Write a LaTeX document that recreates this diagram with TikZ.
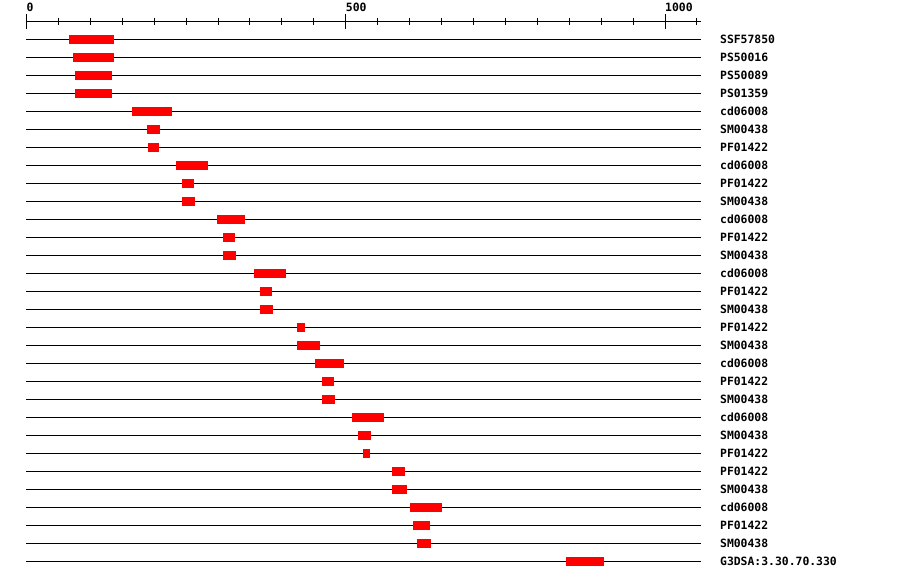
\documentclass[tikz,border=0pt]{standalone}
\usepackage{fontspec}
\setmonofont{DejaVu Sans Mono}
\usepackage{xcolor}
\usetikzlibrary{positioning}
\begin{document}
\begin{tikzpicture}[x=0.6385pt, y=18pt, font=\ttfamily\bfseries\fontsize{11.4}{12}\selectfont]
\useasboundingbox (-41.5,-31.03) rectangle (1368,1.194);
% ruler
\draw[line width=1pt] (0,0) -- (1057,0);
\foreach \x in {50,100,...,1050}
  \draw[line width=1pt] (\x,-0.19) -- (\x,0.19);
\foreach \x in {0,500,1000} {
  \draw[line width=1pt] (\x,-0.39) -- (\x,0.44);
  \node[anchor=south west, inner sep=0pt] (tick\x) at (\x,0.53) {\x};
}
% domain hits, one lane each
\foreach \s/\e/\lab [count=\i] in {67/137/SSF57850, 73/137/PS50016, 76/134/PS50089, 76/134/PS01359,
  165/228/cd06008, 189/209/SM00438, 190/208/PF01422, 234/284/cd06008, 244/262/PF01422, 244/264/SM00438,
  298/342/cd06008, 308/327/PF01422, 308/328/SM00438, 356/406/cd06008, 366/385/PF01422, 366/386/SM00438,
  424/436/PF01422, 424/460/SM00438, 452/497/cd06008, 463/482/PF01422, 463/483/SM00438, 510/560/cd06008,
  519/540/SM00438, 527/538/PF01422, 573/593/PF01422, 573/596/SM00438, 601/651/cd06008, 605/632/PF01422,
  612/634/SM00438, 845/904/G3DSA:3.30.70.330} {
  \draw[line width=1pt] (0,-\i) -- (1057,-\i);
  \fill[red] (\s,-\i-0.27) rectangle (\e,-\i+0.27);
  \node[anchor=west, inner sep=0pt] (lab\i) at (1086,-\i) {\lab};
}
\end{tikzpicture}
\end{document}
